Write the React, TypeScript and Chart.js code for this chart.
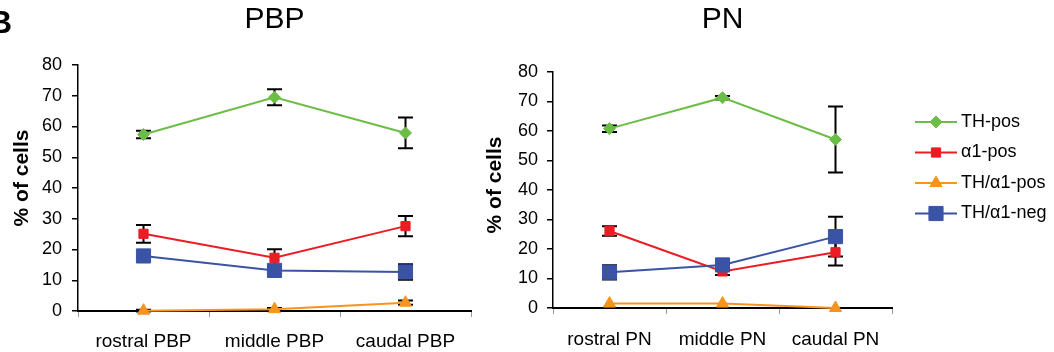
import React, { useEffect, useRef } from 'react';
import { Chart, registerables } from 'chart.js';
import { drawPoint } from 'chart.js/helpers';

Chart.register(...registerables);

const FONT = '"Liberation Sans", Arial, Helvetica, sans-serif';

// ---- series meta ----
const seriesNames = ['TH-pos', 'α1-pos', 'TH/α1-pos', 'TH/α1-neg'];
const seriesColors = ['#6CBD45', '#EC1C24', '#F7941D', '#3A53A4'];
const seriesPointStyles = ['rectRot', 'rect', 'triangle', 'rect'];
const seriesPointRadius = [6, 6.5, 7, 10];
const seriesOrder = [3, 2, 1, 0];

// ---- y axis ----
const yMin = 0;
const yMax = 80;
const yStep = 10;
const yTitle = '% of cells';

// ---- PBP panel ----
const pbpTitle = 'PBP';
const pbpLabels = ['rostral PBP', 'middle PBP', 'caudal PBP'];
const pbpThPos = [57.4, 69.5, 57.9];
const pbpThPosErr = [1.2, 2.6, 5.0];
const pbpA1Pos = [25.1, 17.3, 27.6];
const pbpA1PosErr = [2.9, 2.8, 3.3];
const pbpDoublePos = [0.1, 0.6, 2.7];
const pbpDoublePosErr = [0.3, 0.4, 0.7];
const pbpDoubleNeg = [17.9, 13.2, 12.7];
const pbpDoubleNegErr = [0, 0, 2.5];

// ---- PN panel ----
const pnTitle = 'PN';
const pnLabels = ['rostral PN', 'middle PN', 'caudal PN'];
const pnThPos = [60.8, 71.3, 57.1];
const pnThPosErr = [1.1, 0.6, 11.2];
const pnA1Pos = [26.1, 12.4, 18.9];
const pnA1PosErr = [1.6, 1.2, 4.5];
const pnDoublePos = [1.5, 1.5, 0.0];
const pnDoublePosErr = [0, 0, 0];
const pnDoubleNeg = [12.1, 14.6, 24.2];
const pnDoubleNegErr = [2.4, 0, 6.7];

const panelLetter = 'B';

const errorBarPlugin = {
  id: 'errorBars',
  beforeDatasetsDraw(chart: any) {
    const ctx = chart.ctx;
    const ys = chart.scales.y;
    ctx.save();
    ctx.strokeStyle = '#000';
    ctx.lineWidth = 2;
    chart.data.datasets.forEach((ds: any, i: number) => {
      const meta = chart.getDatasetMeta(i);
      const errs: number[] = ds.errorBars || [];
      meta.data.forEach((pt: any, j: number) => {
        const e = errs[j];
        if (!e) return;
        const v = ds.data[j];
        const x = pt.x;
        const yt = ys.getPixelForValue(v + e);
        const yb = ys.getPixelForValue(v - e);
        const cap = 7.5;
        ctx.beginPath();
        ctx.moveTo(x, yt);
        ctx.lineTo(x, yb);
        ctx.moveTo(x - cap, yt);
        ctx.lineTo(x + cap, yt);
        ctx.moveTo(x - cap, yb);
        ctx.lineTo(x + cap, yb);
        ctx.stroke();
      });
    });
    ctx.restore();
  },
};

const decorPlugin = {
  id: 'decor',
  afterDraw(chart: any, _args: any, opts: any) {
    const ctx = chart.ctx;
    ctx.save();
    // rotated y axis title
    ctx.fillStyle = '#000';
    ctx.font = `bold 21px ${FONT}`;
    ctx.textAlign = 'center';
    ctx.textBaseline = 'middle';
    ctx.translate(opts.yTitleX, opts.yTitleY);
    ctx.rotate(-Math.PI / 2);
    ctx.fillText(yTitle, 0, 0);
    ctx.restore();

    if (opts.letter) {
      ctx.save();
      ctx.fillStyle = '#000';
      ctx.font = `bold 32px ${FONT}`;
      ctx.textAlign = 'left';
      ctx.textBaseline = 'alphabetic';
      ctx.fillText(panelLetter, -11, 33);
      ctx.restore();
    }

    if (opts.legend) {
      const rows = [122, 152.5, 183, 213.5];
      const x0 = 435;
      const x1 = 477;
      const tx = 481;
      ctx.save();
      seriesNames.forEach((name, i) => {
        const y = rows[i];
        ctx.strokeStyle = seriesColors[i];
        ctx.lineWidth = 2;
        ctx.beginPath();
        ctx.moveTo(x0, y);
        ctx.lineTo(x1, y);
        ctx.stroke();
        ctx.fillStyle = seriesColors[i];
        ctx.strokeStyle = seriesColors[i];
        ctx.lineWidth = 1;
        drawPoint(
          ctx,
          { pointStyle: seriesPointStyles[i], radius: seriesPointRadius[i], rotation: 0, borderWidth: 1 } as any,
          (x0 + x1) / 2,
          y
        );
        ctx.fillStyle = '#000';
        ctx.font = `18px ${FONT}`;
        ctx.textAlign = 'left';
        ctx.textBaseline = 'middle';
        ctx.fillText(name, tx, y);
      });
      ctx.restore();
    }
  },
};

function makeConfig(p: {
  title: string;
  labels: string[];
  values: number[][];
  errors: number[][];
  yWidth: number;
  xHeight: number;
  padRight: number;
  titleBottom: number;
  yTickPad: number;
  xTickPad: number;
  yTitleX: number;
  yTitleY: number;
  letter: boolean;
  legend: boolean;
}): any {
  return {
    type: 'line',
    data: {
      labels: p.labels,
      datasets: seriesNames.map((name, i) => ({
        label: name,
        data: p.values[i],
        errorBars: p.errors[i],
        borderColor: seriesColors[i],
        backgroundColor: seriesColors[i],
        pointBackgroundColor: seriesColors[i],
        pointBorderColor: seriesColors[i],
        pointBorderWidth: 1,
        pointStyle: seriesPointStyles[i],
        pointRadius: seriesPointRadius[i],
        borderWidth: 2,
        tension: 0,
        fill: false,
        clip: false,
        order: seriesOrder[i],
      })),
    },
    options: {
      responsive: false,
      animation: false,
      devicePixelRatio: 1,
      layout: { padding: { left: 0, right: p.padRight, top: 0, bottom: 0 }, autoPadding: false },
      plugins: {
        legend: { display: false },
        tooltip: { enabled: false },
        title: {
          display: true,
          text: p.title,
          fullSize: false,
          color: '#000',
          font: { family: FONT, size: 30, weight: 'normal' },
          padding: { top: 2, bottom: p.titleBottom },
        },
        decor: { yTitleX: p.yTitleX, yTitleY: p.yTitleY, letter: p.letter, legend: p.legend },
      },
      scales: {
        x: {
          type: 'category',
          offset: true,
          afterFit: (s: any) => {
            s.height = p.xHeight;
          },
          grid: {
            offset: true,
            drawOnChartArea: false,
            drawTicks: true,
            tickLength: 6,
            color: '#999',
            lineWidth: 1,
          },
          border: { display: true, color: '#000', width: 2 },
          ticks: {
            color: '#000',
            font: { family: FONT, size: 19 },
            padding: p.xTickPad,
            maxRotation: 0,
            autoSkip: false,
          },
        },
        y: {
          min: yMin,
          max: yMax,
          afterFit: (s: any) => {
            s.width = p.yWidth;
          },
          grid: {
            drawOnChartArea: false,
            drawTicks: true,
            tickLength: 6,
            color: '#000',
            lineWidth: 1.5,
          },
          border: { display: true, color: '#000', width: 1.5 },
          ticks: {
            stepSize: yStep,
            color: '#000',
            font: { family: FONT, size: 18 },
            padding: p.yTickPad,
          },
        },
      },
    },
    plugins: [errorBarPlugin, decorPlugin],
  };
}

export default function App() {
  const leftRef = useRef<HTMLCanvasElement>(null);
  const rightRef = useRef<HTMLCanvasElement>(null);

  useEffect(() => {
    const c1 = new Chart(
      leftRef.current as HTMLCanvasElement,
      makeConfig({
        title: pbpTitle,
        labels: pbpLabels,
        values: [pbpThPos, pbpA1Pos, pbpDoublePos, pbpDoubleNeg],
        errors: [pbpThPosErr, pbpA1PosErr, pbpDoublePosErr, pbpDoubleNegErr],
        yWidth: 78,
        xHeight: 41,
        padRight: 9,
        titleBottom: 27,
        yTickPad: 10,
        xTickPad: 13,
        yTitleX: 22,
        yTitleY: 178,
        letter: true,
        legend: false,
      })
    );
    const c2 = new Chart(
      rightRef.current as HTMLCanvasElement,
      makeConfig({
        title: pnTitle,
        labels: pnLabels,
        values: [pnThPos, pnA1Pos, pnDoublePos, pnDoubleNeg],
        errors: [pnThPosErr, pnA1PosErr, pnDoublePosErr, pnDoubleNegErr],
        yWidth: 73,
        xHeight: 44,
        padRight: 162,
        titleBottom: 34,
        yTickPad: 9,
        xTickPad: 14,
        yTitleX: 15,
        yTitleY: 185,
        letter: false,
        legend: true,
      })
    );
    return () => {
      c1.destroy();
      c2.destroy();
    };
  }, []);

  return (
    <div
      style={{
        position: 'fixed',
        left: 0,
        top: 0,
        width: 1054,
        height: 352,
        background: '#fff',
        overflow: 'hidden',
      }}
    >
      <canvas ref={leftRef} width={480} height={352} style={{ position: 'absolute', left: 0, top: 0 }} />
      <canvas ref={rightRef} width={574} height={352} style={{ position: 'absolute', left: 480, top: 0 }} />
    </div>
  );
}
